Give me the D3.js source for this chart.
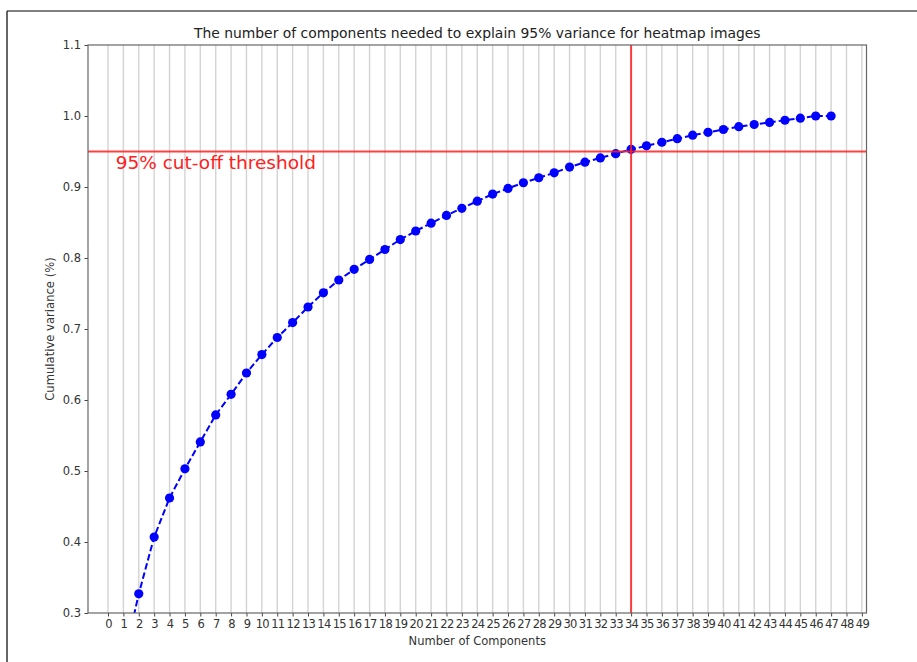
<!DOCTYPE html>
<html>
<head>
<meta charset="utf-8">
<script src="https://cdn.jsdelivr.net/npm/d3@7"></script>
<style>
  html, body { margin: 0; padding: 0; background: #fff; }
  svg { display: block; font-family: "DejaVu Sans", sans-serif; }
</style>
</head>
<body>
<svg id="chart" width="917" height="662"></svg>
<script>
// Number of principal components kept
const components = d3.range(1, 48);
// Cumulative explained variance for each component count
const cumulativeVariance = [
  0.231, 0.327, 0.407, 0.462, 0.503, 0.541, 0.579, 0.608, 0.638, 0.664,
  0.688, 0.709, 0.731, 0.751, 0.769, 0.784, 0.798, 0.812, 0.826, 0.838,
  0.849, 0.860, 0.870, 0.880, 0.890, 0.898, 0.906, 0.913, 0.920, 0.928,
  0.935, 0.941, 0.947, 0.953, 0.958, 0.963, 0.968, 0.973, 0.977, 0.981,
  0.985, 0.988, 0.991, 0.994, 0.997, 1.000, 1.000
];
const xTickValues = d3.range(0, 50);
const yTickValues = [0.3, 0.4, 0.5, 0.6, 0.7, 0.8, 0.9, 1.0, 1.1];
const threshold = 0.95;
const thresholdComponent = 34;
const thresholdLabel = "95% cut-off threshold";
const titleText = "The number of components needed to explain 95% variance for heatmap images";
const xLabelText = "Number of Components";
const yLabelText = "Cumulative variance (%)";

const svg = d3.select("#chart");
const W = 917, H = 662;
const plot = { left: 88, top: 45, right: 866.5, bottom: 613 };

// outer frame (top and left edges)
svg.append("line").attr("x1", 7).attr("x2", W).attr("y1", 11).attr("y2", 11)
  .attr("stroke", "#555").attr("stroke-width", 1.5);
svg.append("line").attr("x1", 7).attr("x2", 7).attr("y1", 11).attr("y2", H)
  .attr("stroke", "#333").attr("stroke-width", 1.5);

const x = d3.scaleLinear().domain([-1.3, 49.3]).range([plot.left, plot.right]);
const y = d3.scaleLinear().domain([0.3, 1.1]).range([plot.bottom, plot.top]);

const defs = svg.append("defs");
defs.append("clipPath").attr("id", "plotClip")
  .append("rect").attr("x", plot.left).attr("y", plot.top)
  .attr("width", plot.right - plot.left).attr("height", plot.bottom - plot.top);

// vertical grid lines at each tick
svg.append("g")
  .selectAll("line").data(xTickValues).join("line")
  .attr("x1", d => x(d)).attr("x2", d => x(d))
  .attr("y1", plot.top).attr("y2", plot.bottom)
  .attr("stroke", "#d3d3d3").attr("stroke-width", 1.4);

const inner = svg.append("g").attr("clip-path", "url(#plotClip)");

// cumulative variance curve
const pts = components.map((c, i) => [c, cumulativeVariance[i]]);
inner.append("path")
  .datum(pts)
  .attr("fill", "none")
  .attr("stroke", "#0000ff")
  .attr("stroke-width", 2)
  .attr("stroke-dasharray", "6.5,3")
  .attr("d", d3.line().x(d => x(d[0])).y(d => y(d[1])));

inner.append("g")
  .selectAll("circle").data(pts).join("circle")
  .attr("cx", d => x(d[0])).attr("cy", d => y(d[1]))
  .attr("r", 4.6).attr("fill", "#0000ff");

// threshold lines
inner.append("line")
  .attr("x1", plot.left).attr("x2", plot.right)
  .attr("y1", y(threshold)).attr("y2", y(threshold))
  .attr("stroke", "#ff2020").attr("stroke-opacity", 0.85).attr("stroke-width", 2);
inner.append("line")
  .attr("x1", x(thresholdComponent)).attr("x2", x(thresholdComponent))
  .attr("y1", plot.top).attr("y2", plot.bottom)
  .attr("stroke", "#ff2020").attr("stroke-opacity", 0.85).attr("stroke-width", 2);

svg.append("text")
  .attr("x", x(0.5)).attr("y", y(0.93) + 3)
  .attr("fill", "#ff2020").attr("font-size", 18.5)
  .text(thresholdLabel);

// axes
const xAxis = d3.axisBottom(x).tickValues(xTickValues).tickFormat(d3.format("d"))
  .tickSize(3.5).tickPadding(3.5);
const yAxis = d3.axisLeft(y).tickValues(yTickValues).tickFormat(d3.format(".1f"))
  .tickSize(3.5).tickPadding(3.5);

const gx = svg.append("g").attr("transform", `translate(0,${plot.bottom})`).call(xAxis);
const gy = svg.append("g").attr("transform", `translate(${plot.left},0)`).call(yAxis);
[gx, gy].forEach(g => {
  g.select(".domain").remove();
  g.selectAll(".tick line").attr("stroke", "#444").attr("stroke-width", 1);
  g.selectAll(".tick text").attr("fill", "#333").attr("font-size", 11.5)
    .attr("font-family", "DejaVu Sans, sans-serif");
});
gx.selectAll(".tick text").attr("letter-spacing", "-0.7px");

// plot frame
svg.append("rect")
  .attr("x", plot.left).attr("y", plot.top)
  .attr("width", plot.right - plot.left).attr("height", plot.bottom - plot.top)
  .attr("fill", "none").attr("stroke", "#666").attr("stroke-width", 1.2);

// titles
svg.append("text")
  .attr("x", (plot.left + plot.right) / 2).attr("y", 38)
  .attr("text-anchor", "middle").attr("font-size", 13.9).attr("fill", "#222")
  .text(titleText);
svg.append("text")
  .attr("x", (plot.left + plot.right) / 2).attr("y", 645)
  .attr("text-anchor", "middle").attr("font-size", 11.5).attr("fill", "#333")
  .text(xLabelText);
svg.append("text")
  .attr("transform", `translate(54,${(plot.top + plot.bottom) / 2}) rotate(-90)`)
  .attr("text-anchor", "middle").attr("font-size", 11.6).attr("fill", "#333")
  .text(yLabelText);
</script>
</body>
</html>
